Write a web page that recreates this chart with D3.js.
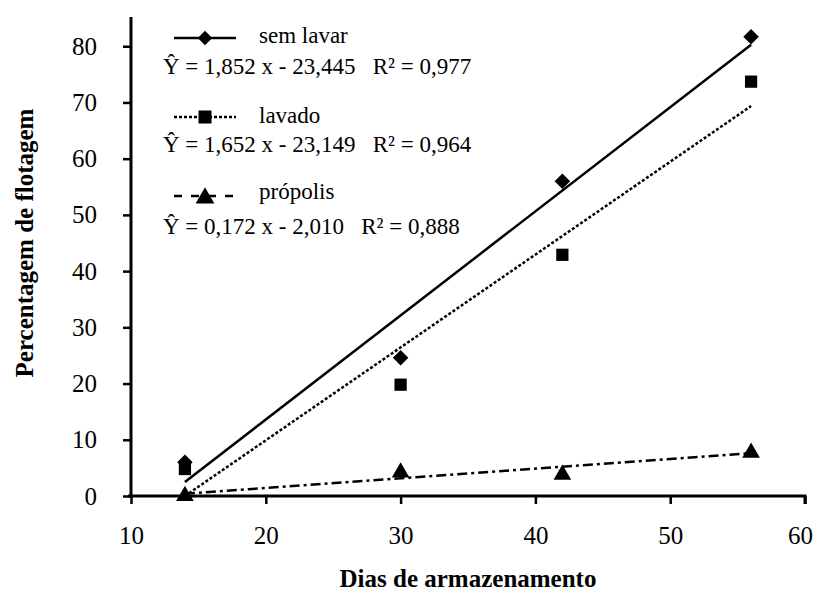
<!DOCTYPE html>
<html>
<head>
<meta charset="utf-8">
<script src="https://cdn.jsdelivr.net/npm/d3@7"></script>
<style>
  body { margin: 0; background: #fff; }
  svg text { font-family: "Liberation Serif", "Times New Roman", Tinos, "DejaVu Serif", serif; fill: #000; }
</style>
</head>
<body>
<div class="canvas"></div>
<script>
const svgWidth = 816;
const svgHeight = 592;
const margin = { top: 17, right: 11, bottom: 96, left: 131 };
const graphWidth = svgWidth - margin.left - margin.right;
const graphHeight = svgHeight - margin.top - margin.bottom;
const serif = '"Liberation Serif", "Times New Roman", Tinos, "DejaVu Serif", serif';

// Data
const dias = [14, 30, 42, 56];
const semLavar = [6.0, 24.6, 56.0, 81.7];
const lavado = [4.8, 19.8, 42.9, 73.7];
const propolis = [0.0, 4.2, 3.8, 7.7];

const xTicks = [10, 20, 30, 40, 50, 60];
const yTicks = [0, 10, 20, 30, 40, 50, 60, 70, 80];

// regression fits (slope, intercept) as printed in the legend
const fits = [
    { name: 'sem lavar', a: 1.852, b: -23.445, eq: 'Ŷ = 1,852 x - 23,445   R² = 0,977' },
    { name: 'lavado', a: 1.652, b: -23.149, eq: 'Ŷ = 1,652 x - 23,149   R² = 0,964' },
    { name: 'própolis', a: 0.172, b: -2.010, eq: 'Ŷ = 0,172 x - 2,010   R² = 0,888' }
];

const series = [
    { values: semLavar, symbol: 'diamond', dash: null, fit: fits[0] },
    { values: lavado, symbol: 'square', dash: '3,2', fit: fits[1] },
    { values: propolis, symbol: 'triangle', dash: '10,4,3,4', fit: fits[2] }
];

const svg = d3.select('.canvas')
    .append('svg')
        .attr('width', svgWidth)
        .attr('height', svgHeight);

const g = svg.append('g')
    .attr('transform', `translate(${margin.left}, ${margin.top})`);

// Scale setup:
const x = d3.scaleLinear().domain([10, 60]).range([0, graphWidth]);
const y = d3.scaleLinear().domain([0, 85.2]).range([graphHeight, 0]);

// Axes
const xAxis = d3.axisBottom(x).tickValues(xTicks).tickSize(8).tickPadding(22);
const yAxis = d3.axisLeft(y).tickValues(yTicks).tickSize(8).tickPadding(26);

const xAxisGroup = g.append('g')
    .attr('transform', `translate(0, ${graphHeight})`)
    .call(xAxis);
const yAxisGroup = g.append('g')
    .call(yAxis);

[xAxisGroup, yAxisGroup].forEach(ax => {
    ax.attr('font-family', serif).attr('font-size', 25);
    ax.select('.domain').attr('stroke', '#000').attr('stroke-width', 3);
    ax.selectAll('.tick line').attr('stroke', '#000').attr('stroke-width', 2.5);
    ax.selectAll('.tick text').attr('fill', '#333');
});
// keep the last label inside the page
xAxisGroup.selectAll('.tick text').filter(d => d === 60).attr('dx', -5);

// flat domain ends
xAxisGroup.select('.domain').attr('d', `M${x(10) - 3},0H${x(60)}V8`);
yAxisGroup.select('.domain').attr('d', `M0,${graphHeight}V0`);

// Axis titles
svg.append('text')
    .attr('x', margin.left + graphWidth / 2)
    .attr('y', 587)
    .attr('text-anchor', 'middle')
    .style('font-size', '25px')
    .style('font-weight', 'bold')
    .text('Dias de armazenamento');

svg.append('text')
    .attr('transform', `translate(33, ${243}) rotate(-90)`)
    .attr('text-anchor', 'middle')
    .style('font-size', '25px')
    .style('font-weight', 'bold')
    .text('Percentagem de flotagem');

const symbolPath = (type, size) => {
    if (type === 'diamond') return d3.symbol(d3.symbolSquare, size * 0.8)();
    if (type === 'square') return d3.symbol(d3.symbolSquare, size)();
    return d3.symbol(d3.symbolTriangle, size * 0.9)();
};

// Regression lines
const line = d3.line().x(d => x(d[0])).y(d => y(d[1]));
series.forEach(s => {
    const x0 = d3.min(dias), x1 = d3.max(dias);
    const pts = [[x0, Math.max(0, s.fit.a * x0 + s.fit.b)], [x1, s.fit.a * x1 + s.fit.b]];
    g.append('path')
        .attr('d', line(pts))
        .attr('fill', 'none')
        .attr('stroke', '#000')
        .attr('stroke-width', 2.5)
        .attr('stroke-dasharray', s.dash);
});

// Points
series.forEach(s => {
    g.selectAll(null)
        .data(s.values)
        .join('path')
            .attr('d', symbolPath(s.symbol, 150))
            .attr('transform', (d, i) => `translate(${x(dias[i])}, ${y(d)})${s.symbol === 'diamond' ? ' rotate(45)' : ''}`)
            .attr('fill', '#000');
});

// Legend
const legend = svg.append('g');
const legendRows = [
    { top: 38, textY: 43, eqY: 74 },
    { top: 117, textY: 123, eqY: 152 },
    { top: 196, textY: 199, eqY: 234 }
];
series.forEach((s, i) => {
    const r = legendRows[i];
    legend.append('line')
        .attr('x1', 174).attr('x2', 236)
        .attr('y1', r.top).attr('y2', r.top)
        .attr('stroke', '#000')
        .attr('stroke-width', 2.5)
        .attr('stroke-dasharray', s.symbol === 'triangle' ? '8,9' : s.dash);
    legend.append('path')
        .attr('d', symbolPath(s.symbol, s.symbol === 'diamond' ? 130 : 170))
        .attr('transform', `translate(205, ${r.top + (s.symbol === 'triangle' ? 2 : 0)})${s.symbol === 'diamond' ? ' rotate(45)' : ''}`)
        .attr('fill', '#000');
    legend.append('text')
        .attr('x', 259).attr('y', r.textY)
        .style('font-size', '23px')
        .text(s.fit.name);
    legend.append('text')
        .attr('x', 163).attr('y', r.eqY)
        .style('font-size', '23px')
        .attr('xml:space', 'preserve')
        .style('white-space', 'pre')
        .text(s.fit.eq);
});
</script>
</body>
</html>
